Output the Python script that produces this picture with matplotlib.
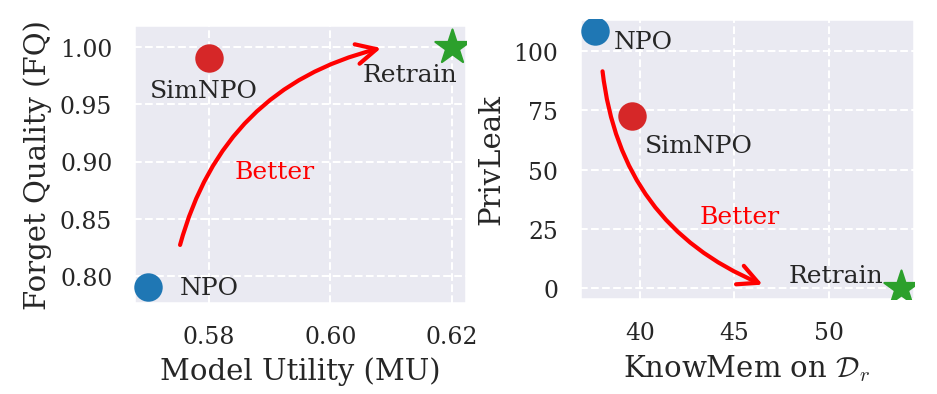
import numpy as np
import matplotlib
matplotlib.use("Agg")
import matplotlib.pyplot as plt
import seaborn as sns

sns.set_theme(style="darkgrid", rc={"grid.linestyle": "--"})
plt.rcParams['font.family'] = ['DejaVu Serif']
plt.rcParams['mathtext.fontset'] = 'cm'
plt.rcParams['xtick.major.size'] = 0
plt.rcParams['ytick.major.size'] = 0

# data: (MU, FQ) and (KnowMem, PrivLeak) per method
methods = ['NPO', 'SimNPO', 'Retrain']
colors = ['#1f77b4', '#d62728', '#2ca02c']
markers = ['o', 'o', '*']
mu = [0.57, 0.58, 0.62]
fq = [0.79, 0.99, 1.00]
knowmem = [37.6, 39.6, 53.8]
privleak = [108.4, 72.8, 0.0]

fig = plt.figure(figsize=(6.253, 2.633), dpi=150)
ax1 = fig.add_axes([134/938, 91/395, 332/938, 278/395])
ax2 = fig.add_axes([580/938, 95/395, 334/938, 280/395])

# left panel: FQ vs MU
for m, c, mk, x, y in zip(methods, colors, markers, mu, fq):
    s = 300 if mk == '*' else 160
    ax1.scatter(x, y, color=c, marker=mk, s=s, zorder=3)
ax1.text(0.5752, 0.79, 'NPO', fontsize=12, va='center', ha='left')
ax1.text(0.5792, 0.962, 'SimNPO', fontsize=12, va='center', ha='center')
ax1.text(0.6131, 0.976, 'Retrain', fontsize=12, va='center', ha='center')
ax1.text(0.5909, 0.891, 'Better', fontsize=12, va='center', ha='center', color='red')
ax1.annotate('', xy=(0.609, 1.0), xytext=(0.5751, 0.8236),
             arrowprops=dict(arrowstyle='->', color='red', lw=2,
                             mutation_scale=24,
                             connectionstyle='arc3,rad=-0.3'))
ax1.set_xlim(0.5677, 0.6223)
ax1.set_ylim(0.7764, 1.0192)
ax1.set_xticks([0.58, 0.60, 0.62])
ax1.set_yticks([0.80, 0.85, 0.90, 0.95, 1.00])
ax1.tick_params(labelsize=11.3, pad=10.4)
ax1.set_xlabel('Model Utility (MU)', fontsize=14)
ax1.set_ylabel('Forget Quality (FQ)', fontsize=14)

# right panel: PrivLeak vs KnowMem
for m, c, mk, x, y in zip(methods, colors, markers, knowmem, privleak):
    s = 300 if mk == '*' else 160
    ax2.scatter(x, y, color=c, marker=mk, s=s, zorder=3)
ax2.text(38.6, 103.8, 'NPO', fontsize=12, va='center', ha='left')
ax2.text(43.1, 60.0, 'SimNPO', fontsize=12, va='center', ha='center')
ax2.text(50.4, 5.5, 'Retrain', fontsize=12, va='center', ha='center')
ax2.text(45.3, 30.0, 'Better', fontsize=12, va='center', ha='center', color='red')
ax2.annotate('', xy=(46.7, 0.8), xytext=(38.0, 93.2),
             arrowprops=dict(arrowstyle='->', color='red', lw=2,
                             mutation_scale=24,
                             connectionstyle='arc3,rad=0.3'))
ax2.set_xlim(36.83, 54.5)
ax2.set_ylim(-4.6, 113.5)
ax2.set_xticks([40, 45, 50])
ax2.set_yticks([0, 25, 50, 75, 100])
ax2.tick_params(labelsize=11.3, pad=10.4)
ax2.set_xlabel(r'KnowMem on $\mathcal{D}_r$', fontsize=14)
ax2.set_ylabel('PrivLeak', fontsize=14)

plt.savefig('out.png', dpi=150)
